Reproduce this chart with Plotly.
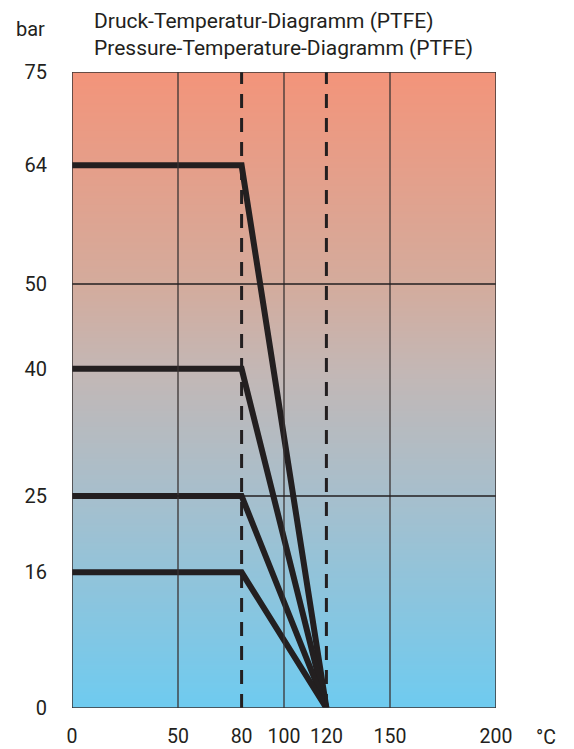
import numpy as np
import plotly.graph_objects as go

# Data
temps_knee = [0, 80, 120]
pressure_levels = [64, 40, 25, 16]
x_ticks = [0, 50, 80, 100, 120, 150, 200]
y_ticks = [0, 16, 25, 40, 50, 64, 75]
solid_vgrid = [50, 100, 150]
dashed_vgrid = [80, 120]
solid_hgrid = [25, 50]
title_de = "Druck-Temperatur-Diagramm (PTFE)"
title_en = "Pressure-Temperature-Diagramm (PTFE)"

FONT = "Roboto, Arial"
INK = "#231F20"

# page-pixel geometry of plot area (page has 8px body margin)
L, R, T, B = 72, 496, 72, 708
OFF = 8


def px(xp):
    return (xp - L) / (R - L)


def py(yp):
    return (B - yp) / (B - T)


fig = go.Figure()

# gradient background
ys = np.linspace(0, 75, 151)
fig.add_trace(go.Heatmap(
    x=[0, 200], y=ys, z=[[v, v] for v in ys],
    zmin=0, zmax=75, zsmooth="best", showscale=False, hoverinfo="skip",
    colorscale=[
        [0.0, "#6ECBF0"],
        [0.33, "#A6BFCD"],
        [0.53, "#C3B7B5"],
        [0.67, "#D4AB9C"],
        [1.0, "#F3947A"],
    ],
))

# grid lines
for gx in solid_vgrid:
    fig.add_shape(type="line", x0=gx, x1=gx, y0=0, y1=75, xref="x", yref="y",
                  line=dict(color="#3a3434", width=1.3))
for gy in solid_hgrid:
    fig.add_shape(type="line", x0=0, x1=200, y0=gy, y1=gy, xref="x", yref="y",
                  line=dict(color=INK, width=1.3))
for gx in dashed_vgrid:
    fig.add_shape(type="line", x0=gx, x1=gx, y0=0, y1=75, xref="x", yref="y",
                  line=dict(color=INK, width=3, dash="14px,10px"))

# pressure curves
for p in pressure_levels:
    fig.add_trace(go.Scatter(
        x=temps_knee, y=[p, p, 0], mode="lines",
        line=dict(color=INK, width=6), hoverinfo="skip", showlegend=False,
    ))

# border
fig.add_shape(type="rect", x0=0, x1=200, y0=0, y1=75, xref="x", yref="y",
              line=dict(color="#3a3434", width=1.5))

fig.update_xaxes(range=[0, 200], tickvals=x_ticks, ticktext=[str(v) for v in x_ticks],
                 showgrid=False, zeroline=False, ticks="outside", ticklen=11,
                 tickcolor="rgba(0,0,0,0)",
                 tickfont=dict(family=FONT, size=19.5, color=INK), showline=False)
fig.update_yaxes(range=[0, 75], tickvals=y_ticks, ticktext=[str(v) for v in y_ticks],
                 showgrid=False, zeroline=False, ticks="outside", ticklen=20,
                 tickcolor="rgba(0,0,0,0)",
                 tickfont=dict(family=FONT, size=20, color=INK), showline=False)

fig.add_annotation(text=title_de, x=px(92), y=py(21), xref="paper", yref="paper",
                   showarrow=False, xanchor="left", yanchor="middle",
                   font=dict(family=FONT, size=21, color=INK))
fig.add_annotation(text=title_en, x=px(92), y=py(48), xref="paper", yref="paper",
                   showarrow=False, xanchor="left", yanchor="middle",
                   font=dict(family=FONT, size=21, color=INK))
fig.add_annotation(text="bar", x=px(30), y=py(29), xref="paper", yref="paper",
                   showarrow=False, xanchor="center", yanchor="middle",
                   font=dict(family=FONT, size=20, color=INK))
fig.add_annotation(text="°C", x=px(546), y=py(737), xref="paper", yref="paper",
                   showarrow=False, xanchor="center", yanchor="middle",
                   font=dict(family=FONT, size=19.5, color=INK))

fig.update_layout(
    width=574, height=749,
    margin=dict(l=L - OFF, r=574 + OFF - R, t=T - OFF, b=749 + OFF - B, autoexpand=False),
    paper_bgcolor="white", plot_bgcolor="white",
    showlegend=False,
)

fig.write_html("out.html")
